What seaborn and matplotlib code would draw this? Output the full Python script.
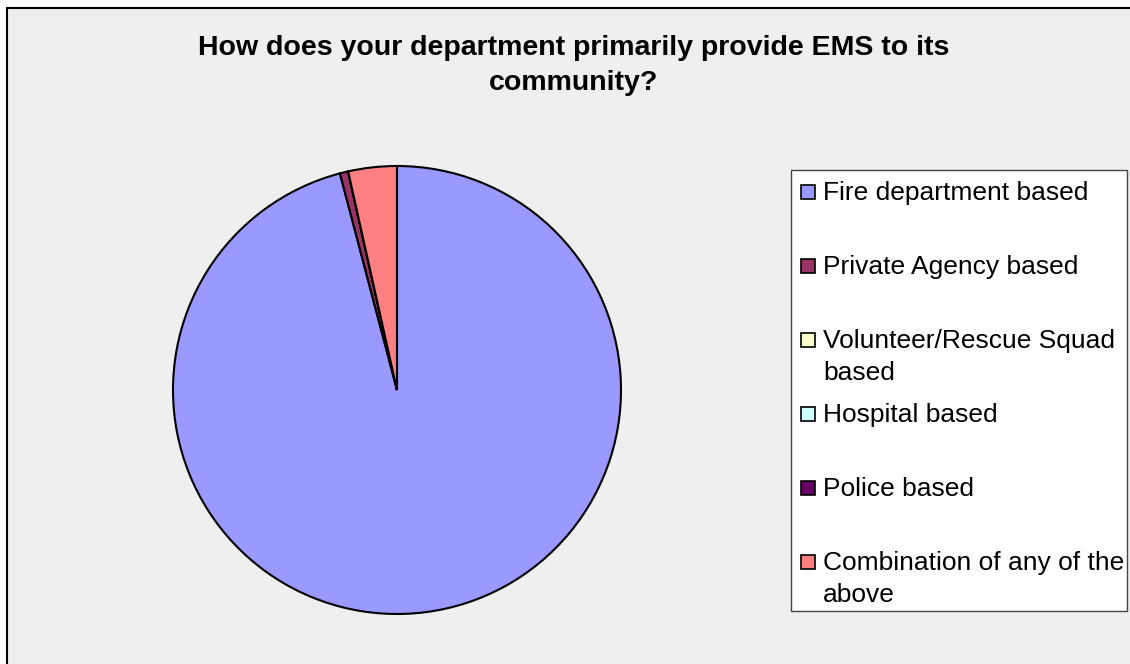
import matplotlib
matplotlib.use("Agg")
import matplotlib.pyplot as plt
from matplotlib.patches import Rectangle
import seaborn as sns

# ---- data ----
categories = [
    "Fire department based",
    "Private Agency based",
    "Volunteer/Rescue Squad\nbased",
    "Hospital based",
    "Police based",
    "Combination of any of the\nabove",
]
shares = [95.9, 0.6, 0.0, 0.0, 0.0, 3.5]
colors = ["#9999FF", "#993366", "#FFFFCC", "#CCFFFF", "#660066", "#FF8080"]
title_lines = ["How does your department primarily provide EMS to its", "community?"]

sns.set_theme(style="white")
plt.rcParams["font.family"] = ["Liberation Sans", "DejaVu Sans"]

W, H = 1130, 664
fig = plt.figure(figsize=(W / 100, H / 100), dpi=100)
fig.patch.set_facecolor("white")

def fx(px):
    return px / W

def fy(py):
    return 1 - py / H

# chart area background with frame (cropped at right/bottom)
fig.patches.append(Rectangle((fx(7), fy(H + 5)), fx(W + 10 - 7), (H + 5 - 8) / H,
                             transform=fig.transFigure, facecolor="#EFEFEF",
                             edgecolor="black", linewidth=1.5, zorder=-5))

# pie
cx, cy, r = 397, 390, 224
ax = fig.add_axes([fx(cx - r), fy(cy + r), 2 * r / W, 2 * r / H])
ax.set_zorder(5)
ax.patch.set_alpha(0)
wedges, _ = ax.pie(shares, colors=colors, startangle=90, counterclock=False,
                   wedgeprops=dict(edgecolor="black", linewidth=1.5), radius=1)
ax.set_xlim(-1, 1)
ax.set_ylim(-1, 1)
ax.axis("off")

# title
fig.text(fx(574), fy(55), title_lines[0], ha="center", va="baseline",
         fontsize=20.5, fontweight="bold", color="black")
fig.text(fx(574), fy(90), title_lines[1], ha="center", va="baseline",
         fontsize=20.5, fontweight="bold", color="black")

# legend box
lx0, ly0, lx1, ly1 = 791, 170, 1127, 611
fig.patches.append(Rectangle((fx(lx0), fy(ly1)), (lx1 - lx0) / W, (ly1 - ly0) / H,
                             transform=fig.transFigure, facecolor="white",
                             edgecolor="#444444", linewidth=1.0, zorder=1))
for i, (lab, w) in enumerate(zip(categories, wedges)):
    base = 200 + i * 74
    fig.patches.append(Rectangle((fx(801), fy(base - 1)), 14 / W, 14 / H,
                                 transform=fig.transFigure,
                                 facecolor=w.get_facecolor(), edgecolor="black",
                                 linewidth=1.2, zorder=2))
    for k, line in enumerate(lab.split("\n")):
        fig.text(fx(823), fy(base + k * 32), line, ha="left", va="baseline",
                 fontsize=19, color="black", zorder=3)

fig.savefig("out.png", dpi=100)
